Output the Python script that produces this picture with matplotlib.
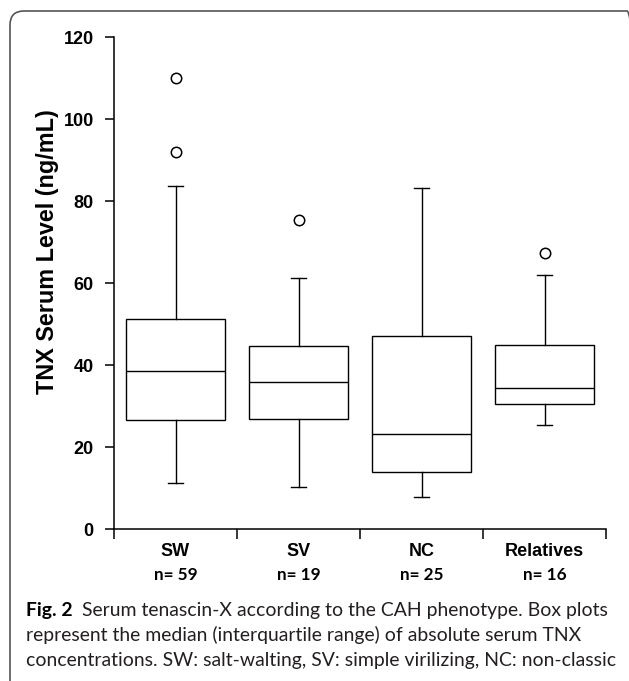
import matplotlib
matplotlib.use("Agg")
import matplotlib.pyplot as plt
from matplotlib.patches import FancyBboxPatch
from matplotlib.transforms import IdentityTransform, blended_transform_factory

categories = ["SW", "SV", "NC", "Relatives"]
n_labels = ["n= 59", "n= 19", "n= 25", "n= 16"]
medians = [38.6, 35.9, 23.2, 34.3]
q1 = [26.7, 26.9, 14.0, 30.4]
q3 = [51.1, 44.6, 47.1, 45.0]
whisker_low = [11.3, 10.3, 7.7, 25.3]
whisker_high = [83.7, 61.1, 83.2, 62.0]
outliers = [[109.9, 92.0], [75.4], [], [67.2]]
y_ticks = [0, 20, 40, 60, 80, 100, 120]

caption_bold = "Fig. 2"
caption_lines = [
    "Serum tenascin-X according to the CAH phenotype. Box plots",
    "represent the median (interquartile range) of absolute serum TNX",
    "concentrations. SW: salt-walting, SV: simple virilizing, NC: non-classic",
]

W, H = 629, 681
fig = plt.figure(figsize=(W / 100, H / 100), dpi=100)
ax = fig.add_axes([114 / W, 1 - 529 / H, (606 - 114) / W, (529 - 37) / H])

stats = []
for c, m, a, b, lo, hi, f in zip(categories, medians, q1, q3, whisker_low, whisker_high, outliers):
    stats.append(dict(med=m, q1=a, q3=b, whislo=lo, whishi=hi, fliers=f, label=c))

lw = 1.0
ax.bxp(stats, positions=[1, 2, 3, 4], widths=0.8, showfliers=True, patch_artist=True,
       capwidths=0.13,
       boxprops=dict(facecolor="white", edgecolor="black", linewidth=lw),
       medianprops=dict(color="black", linewidth=lw),
       whiskerprops=dict(color="black", linewidth=lw),
       capprops=dict(color="black", linewidth=lw),
       flierprops=dict(marker="o", markerfacecolor="white", markeredgecolor="black",
                       markersize=7.5, markeredgewidth=1.1))

ax.set_xlim(0.5, 4.5)
ax.set_ylim(0, 120)
for s in ["top", "right"]:
    ax.spines[s].set_visible(False)
for s in ["left", "bottom"]:
    ax.spines[s].set_linewidth(1.1)
    ax.spines[s].set_color("black")

ax.set_xticks([0.5, 1.5, 2.5, 3.5, 4.5])
ax.set_xticklabels([])
ax.tick_params(axis="x", direction="out", length=7.5, width=1.1)
ax.set_yticks(y_ticks)
ax.set_yticklabels([str(t) for t in y_ticks], fontfamily="Liberation Sans",
                   fontweight="bold", fontsize=13)
ax.tick_params(axis="y", direction="out", length=6.5, width=1.1, pad=8)

tr = blended_transform_factory(ax.transData, fig.transFigure)
for i, (c, n) in enumerate(zip(categories, n_labels)):
    ax.text(i + 1, 1 - 552 / H, c, transform=tr, ha="center", va="center",
            fontfamily="Liberation Sans", fontweight="bold", fontsize=13)
    ax.text(i + 1, 1 - 575 / H, n, transform=tr, ha="center", va="center",
            fontfamily="Lato", fontweight="bold", fontsize=12.3)

fig.text(48 / W, 1 - 252 / H, "TNX Serum Level (ng/mL)", rotation=90,
         ha="center", va="center", fontfamily="Liberation Sans",
         fontweight="bold", fontsize=16.8)

# caption
renderer = fig.canvas.get_renderer()
x0 = 26
baselines = [616, 641, 666]
target_w = 608 - 26
fs = 12.0
for _ in range(3):
    tb = fig.text(x0 / W, 1 - baselines[0] / H, caption_bold + "  ", fontfamily="Lato",
                  fontweight="bold", fontsize=fs, va="baseline")
    tt = fig.text(0, 0, caption_lines[0], fontfamily="Lato", fontsize=fs, va="baseline")
    wb = tb.get_window_extent(renderer).width
    wt = tt.get_window_extent(renderer).width
    tb.remove(); tt.remove()
    fs = fs * target_w / (wb + wt)

tb = fig.text(x0 / W, 1 - baselines[0] / H, caption_bold, fontfamily="Lato",
              fontweight="bold", fontsize=fs, va="baseline")
tmp = fig.text(0, 0, caption_bold + "  ", fontfamily="Lato", fontweight="bold", fontsize=fs)
wb = tmp.get_window_extent(renderer).width
tmp.remove()
fig.text((x0 + wb) / W, 1 - baselines[0] / H, caption_lines[0], fontfamily="Lato",
         fontsize=fs, va="baseline", color="#231f20")
for line, bl in zip(caption_lines[1:], baselines[1:]):
    fig.text(x0 / W, 1 - bl / H, line, fontfamily="Lato", fontsize=fs,
             va="baseline", color="#231f20")

border = FancyBboxPatch((10, -20), 631, (H - 11) + 20,
                        boxstyle="round,pad=0,rounding_size=14",
                        transform=IdentityTransform(), fill=False,
                        edgecolor="#555555", linewidth=1.2)
fig.add_artist(border)

fig.savefig("out.png", dpi=100)
